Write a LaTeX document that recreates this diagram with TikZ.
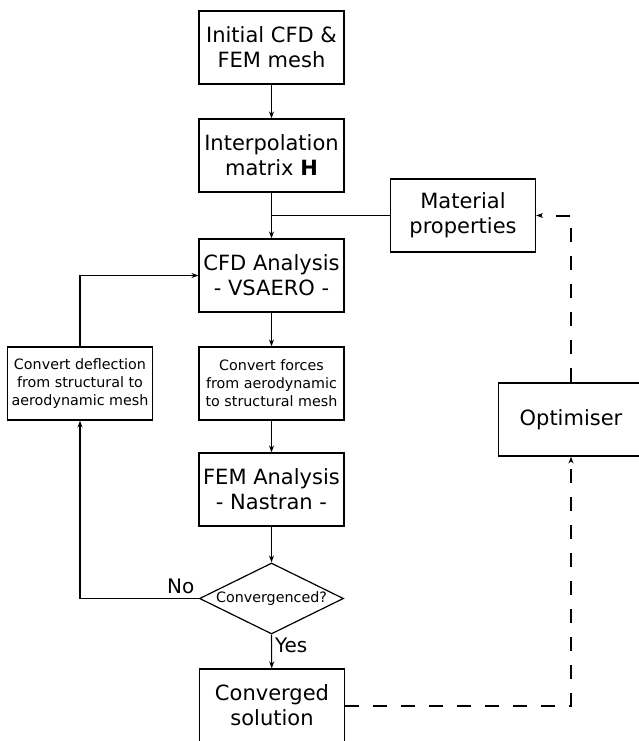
\documentclass[tikz,border=0pt]{standalone}
\usepackage{fontspec}
\setmainfont{DejaVu Sans}
\usetikzlibrary{arrows.meta}
\usetikzlibrary{shapes.geometric}

\begin{document}
\begin{tikzpicture}[x=1pt,y=-1pt,
	block/.style={draw,line width=1.2pt,minimum width=145pt,minimum height=73pt,
		align=center,inner sep=0pt,font=\fontsize{21}{25}\selectfont},
	smallblock/.style={block,font=\fontsize{14.3}{18}\selectfont},
	lbl/.style={font=\fontsize{20}{24}\selectfont},
	arr/.style={-{Stealth[length=7pt,width=5pt]},line width=1.1pt},
	dasharr/.style={arr,line width=2pt,dash pattern=on 14pt off 14pt}]
	\path[use as bounding box] (0,0) rectangle (639,741);
	\clip (0,0) rectangle (639,741);

	% main chain
	\node[block] (init) at (271.5,47.5) {Initial CFD \&\\FEM mesh};
	\node[block] (interp) at (271.5,155.5) {Interpolation\\matrix \textbf{H}};
	\node[block] (mat) at (463,215.5) {Material\\properties};
	\node[block] (cfd) at (271.5,275.5) {CFD Analysis\\- VSAERO -};
	\node[smallblock] (forces) at (271.5,383.5) {Convert forces\\from aerodynamic\\to structural mesh};
	\node[smallblock] (defl) at (80,383.5) {Convert deflection\\from structural to\\aerodynamic mesh};
	\node[block] (fem) at (271.5,489.5) {FEM Analysis\\- Nastran -};
	\node[draw,diamond,line width=1.2pt,minimum width=144pt,minimum height=71pt,inner sep=0pt] (conv) at (271.5,598.5) {};
	\node[font=\fontsize{14.3}{18}\selectfont] at (conv) {Convergenced?};
	\node[block] (sol) at (272,705.5) {Converged\\solution};
	\node[block] (opt) at (571,419.5) {Optimiser};

	\coordinate (j) at (interp.south |- mat.west);

	\draw[arr] (init) -- (interp);
	\draw[arr] (interp) -- (cfd);
	\draw[line width=1.1pt] (j) -- (mat.west);
	\draw[arr] (cfd) -- (forces);
	\draw[arr] (forces) -- (fem);
	\draw[arr] (fem) -- (conv.north);
	\draw[arr] (conv.south) -- (sol) node[pos=0,below right,lbl,inner sep=3pt] {Yes};
	\draw[arr] (conv.west) -| (defl.south) node[pos=0,above left,lbl,inner sep=4pt] {No};
	\draw[arr] (defl.north) |- (cfd.west);

	% optimisation loop
	\draw[dasharr] (sol.east) -| (opt.south);
	\draw[dasharr] (opt.north) |- (mat.east);
\end{tikzpicture}
\end{document}
